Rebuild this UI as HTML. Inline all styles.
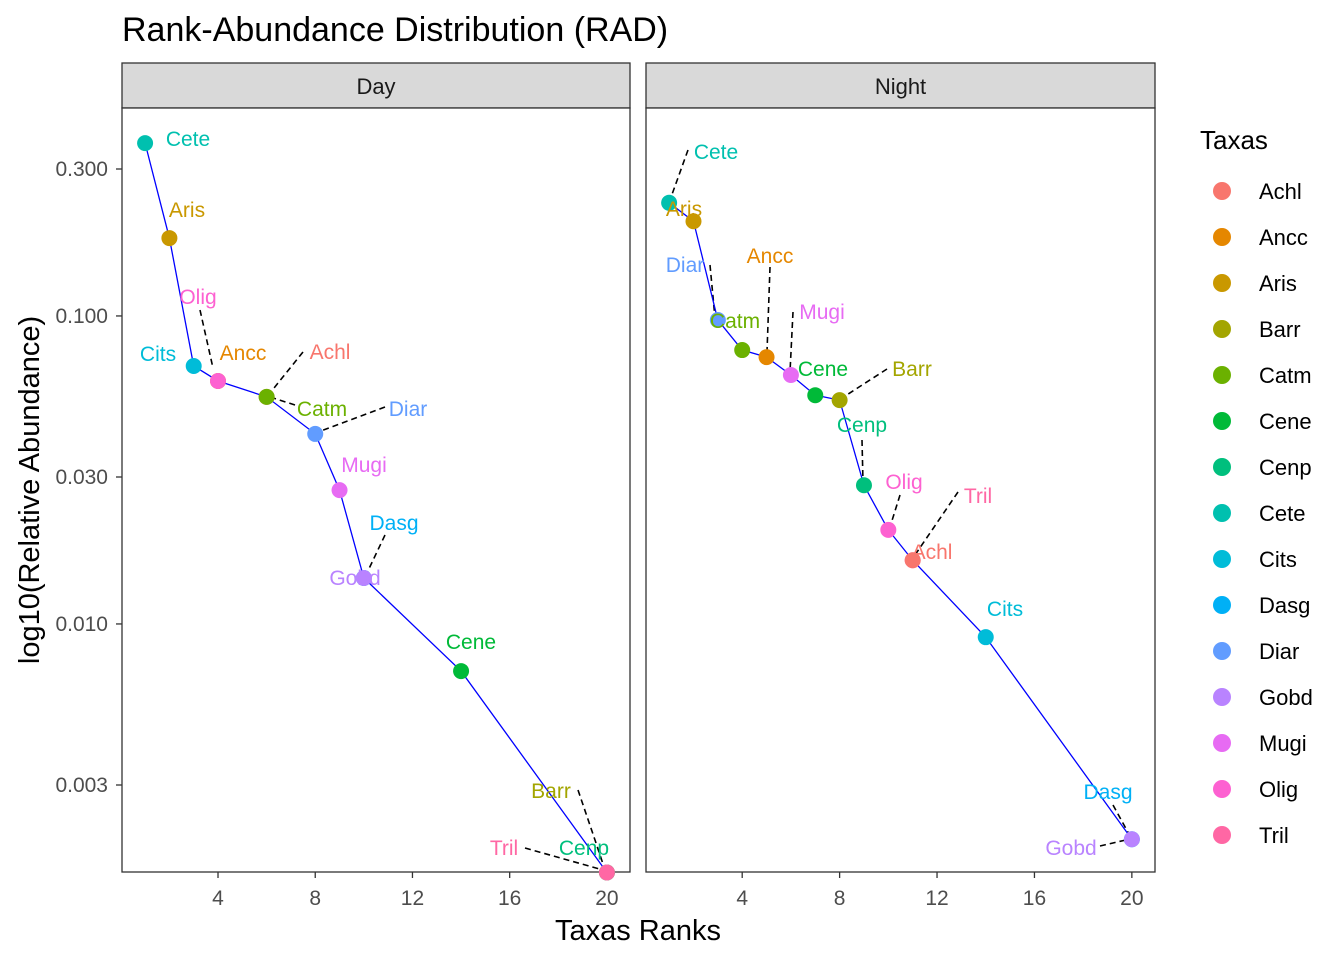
<!DOCTYPE html>
<html><head><meta charset="utf-8"><style>
body{margin:0;background:#fff;font-family:"Liberation Sans",Arial,sans-serif}
svg text{font-family:"Liberation Sans",Arial,sans-serif}
</style></head><body>
<svg id="chart" width="1344" height="960" xmlns="http://www.w3.org/2000/svg">
<text x="122" y="41" font-size="34" fill="#000">Rank-Abundance Distribution (RAD)</text>
<text x="638" y="940" font-size="29" text-anchor="middle" fill="#000">Taxas Ranks</text>
<text transform="translate(39,490) rotate(-90)" font-size="29" text-anchor="middle" fill="#000">log10(Relative Abundance)</text>
<g id="panels"></g>
<g id="legend"></g>
</svg>
<script>
const taxa=["Achl","Ancc","Aris","Barr","Catm","Cene","Cenp","Cete","Cits","Dasg","Diar","Gobd","Mugi","Olig","Tril"];
const colors=["#F8766D","#E58700","#C99800","#A3A500","#6BB100","#00BA38","#00BF7D","#00C0AF","#00BCD8","#00B0F6","#619CFF","#B983FF","#E76BF3","#FD61D1","#FF67A4"];
const dayTaxa=["Cete","Aris","Cits","Ancc","Olig","Achl","Catm","Diar","Mugi","Dasg","Gobd","Cene","Barr","Cenp","Tril"];
const dayRanks=[1,2,3,4,4,6,6,8,9,10,10,14,20,20,20];
const dayValues=[0.364,0.179,0.0688,0.0615,0.0615,0.0546,0.0546,0.0414,0.0272,0.0141,0.0141,0.00703,0.00156,0.00156,0.00156];
const nightTaxa=["Cete","Aris","Diar","Catm","Ancc","Mugi","Cene","Barr","Cenp","Olig","Tril","Achl","Cits","Dasg","Gobd"];
const nightRanks=[1,2,3,4,5,6,7,8,9,10,11,11,14,20,20];
const nightValues=[0.233,0.203,0.097,0.0775,0.0735,0.0643,0.0553,0.0533,0.0282,0.0202,0.0161,0.0161,0.00906,0.002,0.002];
const xTicks=[4,8,12,16,20];
const yTicks=[0.3,0.1,0.03,0.01,0.003];
const yTickLabels=["0.300","0.100","0.030","0.010","0.003"];
// label layout (pixel placement, not data)
const dayLabelPos={Cete:[188,139],Aris:[187,210],Olig:[198,297,[[200,310],[213,368]]],Cits:[158,354],Ancc:[243,353],
 Achl:[330,352,[[303,352],[270,393]]],Catm:[322,409,[[295,405],[270,397]]],Diar:[408,409,[[385,407],[318,432]]],
 Mugi:[364,465],Dasg:[394,523,[[385,535],[366,575]]],Gobd:[355,578],Cene:[471,642],
 Barr:[551,791,[[578,790],[595,840],[605,870]]],Tril:[504,848,[[525,848],[603,870]]],Cenp:[584,848]};
const nightLabelPos={Cete:[716,152,[[688,150],[670,200]]],Aris:[684,209],Diar:[685,265,[[710,265],[715,318]]],
 Ancc:[770,256,[[770,267],[767,352]]],Catm:[735,321],Mugi:[822,312,[[793,312],[790,372]]],Cene:[823,369],
 Barr:[912,369,[[887,369],[842,398]]],Cenp:[862,425,[[862,440],[863,482]]],Olig:[904,482,[[900,495],[890,527]]],
 Tril:[978,496,[[958,492],[915,555]]],Achl:[932,552],Cits:[1005,609],Dasg:[1108,792,[[1113,805],[1130,836]]],
 Gobd:[1071,848,[[1100,846],[1130,839]]]};
const NS="http://www.w3.org/2000/svg";
function mk(tag,attrs,parent){const e=document.createElementNS(NS,tag);for(const k in attrs)e.setAttribute(k,attrs[k]);parent.appendChild(e);return e;}
const plotTop=108,plotBot=872;
function yScale(v){return 169-(Math.log10(v)-Math.log10(0.3))*308;}
function colOf(t){return colors[taxa.indexOf(t)];}
const panelsG=document.getElementById('panels');
function panel(name,x0,x1,tx,rk,vals,lp){
 const g=mk('g',{},panelsG);
 
 
 const xS=r=>x0+(r-0.05)/20.9*(x1-x0);
 const strip=mk('rect',{x:x0,y:63,width:x1-x0,height:45,fill:'#d9d9d9',stroke:'#333','stroke-width':1.3},g);
 
 
 const st=mk('text',{x:(x0+x1)/2,y:94,'font-size':22,'text-anchor':'middle',fill:'#1a1a1a'},g);st.textContent=name;
 
 
 mk('rect',{x:x0,y:plotTop,width:x1-x0,height:plotBot-plotTop,fill:'#fff',stroke:'#333','stroke-width':1.3},g);
 xTicks.forEach(t=>{const x=xS(t);mk('line',{x1:x,x2:x,y1:plotBot,y2:plotBot+6,stroke:'#333','stroke-width':1.3},g);
  const tt=mk('text',{x:x,y:plotBot+33,'font-size':21,'text-anchor':'middle',fill:'#4d4d4d'},g);tt.textContent=t;
  
  });
 if(name==='Day'){yTicks.forEach((t,i)=>{const y=yScale(t);mk('line',{x1:x0-6,x2:x0,y1:y,y2:y,stroke:'#333','stroke-width':1.3},g);
  const tt=mk('text',{x:x0-14,y:y+7,'font-size':21,'text-anchor':'end',fill:'#4d4d4d'},g);tt.textContent=yTickLabels[i];
  
  });}
 tx.forEach(t=>{const p=lp[t];if(p&&p[2]){const pts=p[2].map(q=>q.join(',')).join(' ');
  mk('polyline',{points:pts,fill:'none',stroke:'#000','stroke-width':1.6,'stroke-dasharray':'6,4'},g);}});
 const idx=rk.map((r,i)=>i).sort((a,b)=>rk[a]-rk[b]);
 const pl=mk('polyline',{points:idx.map(i=>xS(rk[i])+','+yScale(vals[i])).join(' '),fill:'none',stroke:'#0000ff','stroke-width':1.3},g);
 
 
 tx.forEach((t,i)=>{const c=mk('circle',{cx:xS(rk[i]),cy:yScale(vals[i]),r:8,fill:colOf(t)},g);
  
  });
 tx.forEach(t=>{const p=lp[t];if(!p)return;const l=mk('text',{x:p[0],y:p[1]+7,'font-size':21,'text-anchor':'middle',fill:colOf(t)},g);l.textContent=t;
  
  });
}
panel('Day',122,630,dayTaxa,dayRanks,dayValues,dayLabelPos);
panel('Night',646,1155,nightTaxa,nightRanks,nightValues,nightLabelPos);
const lg=document.getElementById('legend');
const lt=mk('text',{x:1200,y:149,'font-size':26,fill:'#000'},lg);lt.textContent='Taxas';


taxa.forEach((t,i)=>{const y=191+i*46;
 const c=mk('circle',{cx:1222,cy:y,r:9,fill:colors[i]},lg);
 
 
 const tx=mk('text',{x:1259,y:y+8,'font-size':22,fill:'#000'},lg);tx.textContent=t;
 
 });
</script>
</body></html>
